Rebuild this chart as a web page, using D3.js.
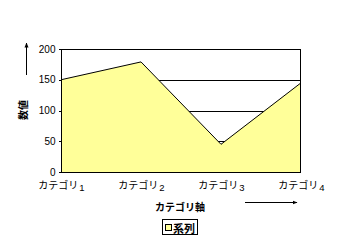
<!DOCTYPE html>
<html><head><meta charset="utf-8">
<script src="https://cdn.jsdelivr.net/npm/d3@7"></script>
<style>
html,body{margin:0;padding:0;background:#fff;}
text{font-family:"Noto Sans CJK JP","Liberation Sans",sans-serif;fill:#000;}
</style></head>
<body>
<svg id="c" width="345" height="252"></svg>
<script>
const categories = ["カテゴリ1","カテゴリ2","カテゴリ3","カテゴリ4"];
const categoryBase = "カテゴリ";
const categoryNum = ["1","2","3","4"];
const values = [150, 179, 45, 145];
const yTicks = [0, 50, 100, 150, 200];
const seriesName = "系列";
const yTitle = "数値";
const xTitle = "カテゴリ軸";

const svg = d3.select("#c");
const L = 61, R = 301, T = 49, B = 172;
const x = d3.scalePoint().domain(categories).range([L, R]).padding(0);
const y = d3.scaleLinear().domain([0, 200]).range([B, T]);

// gridlines (behind area)
svg.append("g").selectAll("line").data(yTicks.filter(d => d > 0 && d < 200)).join("line")
  .attr("x1", L).attr("x2", R)
  .attr("y1", d => Math.round(y(d)) + 0.5).attr("y2", d => Math.round(y(d)) + 0.5)
  .attr("stroke", "#000").attr("stroke-width", 1).attr("shape-rendering", "crispEdges");

const pts = categories.map((c, i) => [x(c), values[i]]);
const area = d3.area().x(d => d[0]).y0(B).y1(d => y(d[1]));
svg.append("path").datum(pts).attr("d", area).attr("fill", "#FFFF99");
const line = d3.line().x(d => d[0]).y(d => y(d[1]));
svg.append("path").datum(pts).attr("d", line).attr("fill", "none").attr("stroke", "#000").attr("stroke-width", 1);

// plot border
svg.append("rect").attr("x", L + 0.5).attr("y", T + 0.5).attr("width", R - L - 1).attr("height", B - T)
  .attr("fill", "none").attr("stroke", "#000").attr("shape-rendering", "crispEdges");

// y axis
const yAxis = d3.axisLeft(y).tickValues(yTicks).tickSize(3).tickPadding(3);
const gy = svg.append("g").attr("transform", `translate(${L + 0.5},0)`).call(yAxis);
gy.select(".domain").remove();
gy.selectAll("line").attr("stroke", "#000").attr("shape-rendering", "crispEdges");
gy.selectAll("text").style("font-family", "'Liberation Sans',sans-serif").style("font-size", "10px").attr("fill", "#000");

// x axis labels
const xAxis = d3.axisBottom(x).tickSize(0).tickPadding(8).tickFormat(() => "");
const gx = svg.append("g").attr("transform", `translate(0,${B})`).call(xAxis);
gx.select(".domain").remove();
gx.selectAll(".tick").each(function(d, i) {
  const t = d3.select(this).select("text").attr("font-size", "10px").attr("text-anchor", "middle").attr("dy", "0.9em");
  t.text(null);
  t.append("tspan").text(categoryBase);
  t.append("tspan").text(categoryNum[i]).attr("font-size", "9.5px").attr("dy", "1.5").attr("dx", "1").style("font-family", "'Liberation Sans',sans-serif");
});

// y title
svg.append("text").attr("transform", "translate(22,110) rotate(-90)").attr("text-anchor", "middle")
  .attr("dominant-baseline", "central").attr("font-size", "10px").attr("font-weight", "bold").text(yTitle);
// arrows
svg.append("defs").append("marker").attr("id", "ah").attr("viewBox", "0 0 10 10").attr("refX", 9).attr("refY", 5)
  .attr("markerWidth", 5).attr("markerHeight", 5).attr("orient", "auto")
  .append("path").attr("d", "M0,1 L10,5 L0,9 Z").attr("fill", "#000");
svg.append("line").attr("x1", 26.5).attr("x2", 26.5).attr("y1", 75).attr("y2", 43)
  .attr("stroke", "#000").attr("marker-end", "url(#ah)");

// x title
svg.append("text").attr("x", 180).attr("y", 206.5).attr("text-anchor", "middle").attr("dominant-baseline", "central")
  .attr("font-size", "10px").attr("font-weight", "bold").text(xTitle);
svg.append("line").attr("x1", 245).attr("x2", 297).attr("y1", 202.5).attr("y2", 202.5)
  .attr("stroke", "#000").attr("marker-end", "url(#ah)");

// legend
svg.append("rect").attr("x", 162.5).attr("y", 219.5).attr("width", 35).attr("height", 15)
  .attr("fill", "#fff").attr("stroke", "#000").attr("shape-rendering", "crispEdges");
svg.append("rect").attr("x", 165.5).attr("y", 224.5).attr("width", 6).attr("height", 6)
  .attr("fill", "#FFFF99").attr("stroke", "#000").attr("shape-rendering", "crispEdges");
svg.append("text").attr("x", 173).attr("y", 227.5).attr("dominant-baseline", "central")
  .attr("font-size", "11px").attr("font-weight", "bold").text(seriesName);
</script>
</body></html>
